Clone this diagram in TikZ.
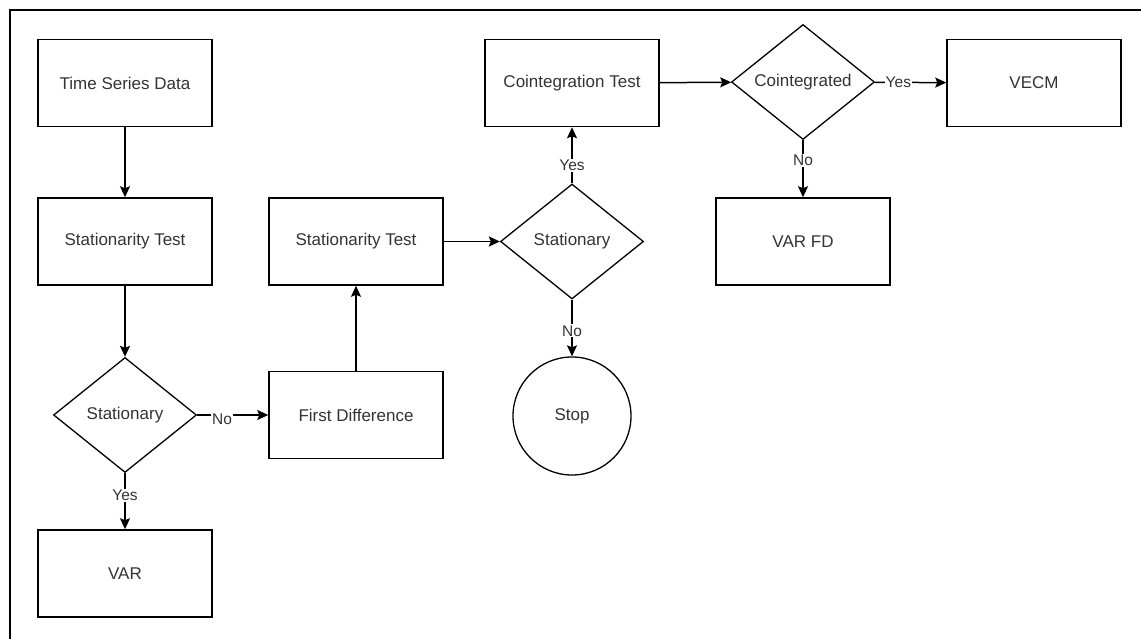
\documentclass[tikz,border=0pt]{standalone}
\usepackage{fontspec}
\setmainfont{Liberation Sans}
\usetikzlibrary{shapes.geometric,arrows.meta}
\definecolor{txt}{HTML}{333333}
\tikzset{
  box/.style={draw=black,line width=1.5pt,minimum width=174pt,minimum height=87pt,inner sep=0pt,text=txt,font=\fontsize{17}{20}\selectfont},
  dec/.style={draw=black,line width=1.3pt,diamond,aspect=1.25,minimum width=143pt,minimum height=115pt,inner sep=0pt,text=txt,font=\fontsize{17}{20}\selectfont},
  term/.style={draw=black,line width=1.3pt,circle,minimum size=118pt,inner sep=0pt,text=txt,font=\fontsize{17}{20}\selectfont},
  conn/.style={draw=black,line width=1.5pt,-{Stealth[length=11pt,width=10pt,inset=2pt]}},
  lbl/.style={fill=white,inner sep=1pt,text=txt,font=\fontsize{15.5}{18}\selectfont}
}
\begin{document}
\begin{tikzpicture}[x=1pt,y=-1pt]
\useasboundingbox (0,0) rectangle (1141,639);
\draw[line width=1.5pt] (10,639) -- (10,10) -- (1141,10);
\node[box] (tsd) at (125,83) {Time Series Data};
\node[box] (st1) at (125,241.5) {Stationarity Test};
\node[dec] (d1) at (125,415) {Stationary};
\node[box] (var) at (125,573.5) {VAR};
\node[box] (fd) at (356,415) {First Difference};
\node[box] (st2) at (356,241.5) {Stationarity Test};
\node[dec] (d2) at (572,241.5) {Stationary};
\node[term] (stop) at (572,416) {Stop};
\node[box] (ct) at (572,83) {Cointegration Test};
\node[dec] (d3) at (803,82) {Cointegrated};
\node[box] (vecm) at (1034,83) {VECM};
\node[box] (varfd) at (803,241.5) {VAR FD};
\draw[conn] (tsd) -- (st1);
\draw[conn] (st1) -- (d1);
\draw[conn] (d1) -- node[lbl,pos=0.35,yshift=-4pt]{No} (fd);
\draw[conn] (d1) -- node[lbl,pos=0.4]{Yes} (var);
\draw[conn] (fd) -- (st2);
\draw[conn] (st2) -- (d2);
\draw[conn] (d2) -- node[lbl,pos=0.32]{Yes} (ct);
\draw[conn] (d2) -- node[lbl,pos=0.55]{No} (stop);
\draw[conn] (ct) -- (d3);
\draw[conn] (d3) -- node[lbl,pos=0.33]{Yes} (vecm);
\draw[conn] (d3) -- node[lbl,pos=0.36]{No} (varfd);
\end{tikzpicture}
\end{document}
